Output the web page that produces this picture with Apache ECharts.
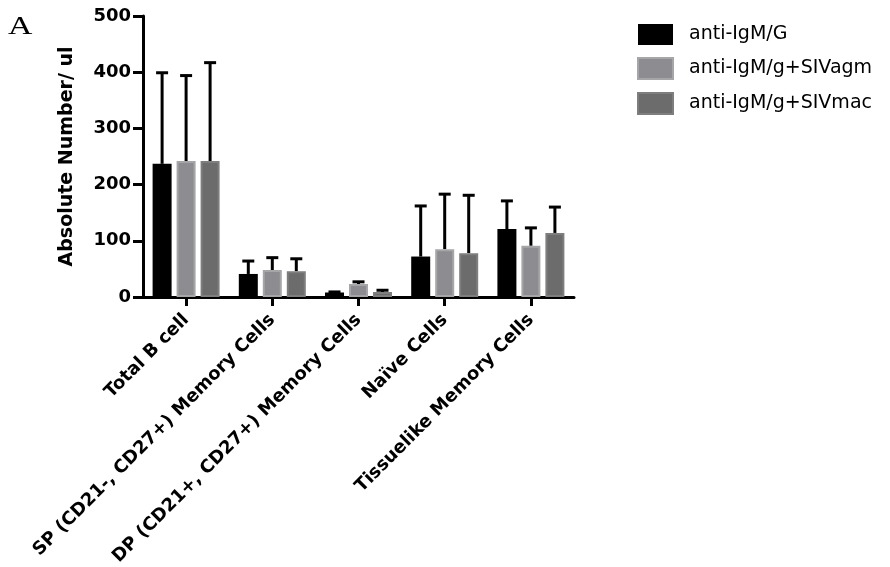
<!DOCTYPE html>
<html><head><meta charset="utf-8">
<script src="https://cdn.jsdelivr.net/npm/echarts@6/dist/echarts.min.js"></script>
<style>html,body{margin:0;padding:0;background:#fff}#c{width:890px;height:567px}</style>
</head><body><div id="c"></div>
<script>
const categories = ['Total B cell', 'SP (CD21-, CD27+) Memory Cells', 'DP (CD21+, CD27+) Memory Cells', 'Naïve Cells', 'Tissuelike Memory Cells'];
const seriesNames = ['anti-IgM/G', 'anti-IgM/g+SIVagm', 'anti-IgM/g+SIVmac'];
const meanIgMG = [237, 41, 8, 72, 121];
const errTopIgMG = [399, 64, 9, 162, 171];
const meanSIVagm = [242, 48, 23, 85, 91];
const errTopSIVagm = [394, 70, 27, 183, 123];
const meanSIVmac = [242, 46, 9, 78, 114];
const errTopSIVmac = [417, 68, 12, 181, 160];
const yMin = 0, yMax = 500, yStep = 100;

const BAR_W = 19, GAP = 5;
const fills = ['#000000', '#8d8d91', '#6c6c6c'];
const borders = ['#000000', '#a6a6a9', '#7e7e7e'];
const means = [meanIgMG, meanSIVagm, meanSIVmac];
const tops = [errTopIgMG, errTopSIVagm, errTopSIVmac];

const chart = echarts.init(document.getElementById('c'), null, {renderer: 'canvas'});

const barSeries = seriesNames.map((n, k) => ({
  type: 'bar', name: n, data: means[k], barWidth: BAR_W, barGap: (GAP / BAR_W * 100).toFixed(1) + '%',
  itemStyle: {color: fills[k], borderColor: borders[k], borderWidth: k === 0 ? 0 : 2},
  z: 2, silent: true
}));

const errSeries = seriesNames.map((n, k) => ({
  type: 'custom', name: n + ' err', silent: true, z: 1,
  data: means[k].map((m, i) => [i, m, tops[k][i]]),
  encode: {x: 0, y: [1, 2]},
  renderItem: function (params, api) {
    const off = (k - 1) * (BAR_W + GAP);
    const p0 = api.coord([api.value(0), api.value(1)]);
    const p1 = api.coord([api.value(0), api.value(2)]);
    const x = p0[0] + off;
    return {type: 'group', children: [
      {type: 'line', shape: {x1: x, y1: p0[1], x2: x, y2: p1[1]}, style: {stroke: '#000', lineWidth: 3}},
      {type: 'line', shape: {x1: x - 6, y1: p1[1], x2: x + 6, y2: p1[1]}, style: {stroke: '#000', lineWidth: 3}}
    ]};
  }
}));

chart.setOption({
  animation: false,
  backgroundColor: '#fff',
  grid: {left: 143, right: 316, top: 16, bottom: 270, containLabel: false, outerBoundsMode: 'none'},
  legend: {
    data: seriesNames, orient: 'vertical', left: 637, top: 24, padding: 0,
    itemWidth: 35, itemHeight: 21, itemGap: 12, icon: 'rect',
    textStyle: {fontFamily: 'DejaVu Sans', fontSize: 19, color: '#000', padding: [0, 0, 0, 11]},
    selectedMode: false
  },
  xAxis: {
    type: 'category', data: categories,
    axisLine: {lineStyle: {color: '#000', width: 3}},
    axisTick: {show: true, alignWithLabel: true, length: 9, lineStyle: {color: '#000', width: 3}},
    axisLabel: {rotate: 45, interval: 0, margin: 20, color: '#000', fontFamily: 'DejaVu Sans', fontWeight: 'bold', fontSize: 18}
  },
  yAxis: {
    type: 'value', min: yMin, max: yMax, interval: yStep,
    name: 'Absolute Number/ ul', nameLocation: 'middle', nameGap: 66, nameRotate: 90,
    nameTextStyle: {fontFamily: 'DejaVu Sans', fontWeight: 'bold', fontSize: 19, color: '#000'},
    axisLine: {show: true, lineStyle: {color: '#000', width: 3}},
    axisTick: {show: true, length: 10, lineStyle: {color: '#000', width: 3}},
    axisLabel: {margin: 12, color: '#000', fontFamily: 'DejaVu Sans', fontWeight: 'bold', fontSize: 18},
    splitLine: {show: false}
  },
  graphic: [{type: 'text', x: 8, y: 15, scaleX: 1.35, style: {text: 'A', font: '25px "Liberation Serif", serif', fill: '#000'}}],
  series: [...errSeries, ...barSeries]
});
</script></body></html>
